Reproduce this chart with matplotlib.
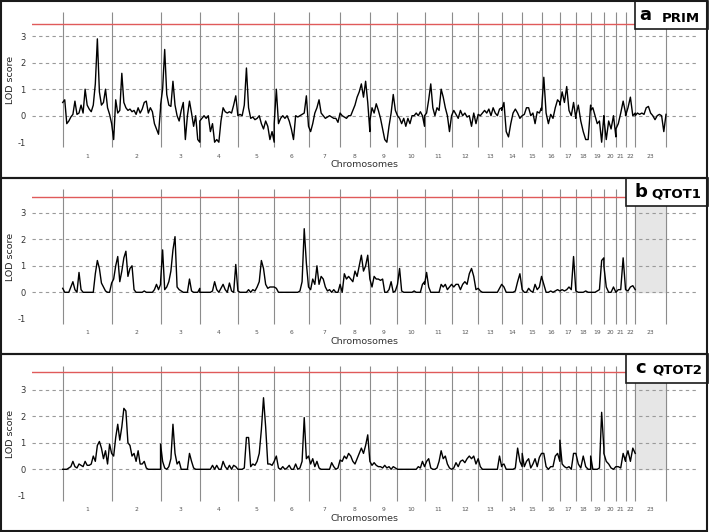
import numpy as np
import matplotlib
matplotlib.use('Agg')
import matplotlib.pyplot as plt
from matplotlib.patches import Rectangle

chrom_names = [str(i) for i in range(1, 24)]
chrom_lengths = [248, 248, 199, 193, 184, 174, 160, 151, 140, 137, 137, 135,
                 119, 104, 98, 93, 81, 75, 67, 61, 49, 49, 156]

# LOD scores along each chromosome (evenly spaced markers)
prim_lod = [
    [0.5, 0.6, -0.3, -0.2, -0.05, 0.05, 0.55, 0.05, 0.1, 0.4, 0.1, 1.0, 0.4, 0.25, 0.15, 0.4, 1.2, 2.9, 0.9, 0.4, 0.5, 1.0, 0.3, 0.05, -0.3],
    [-0.3, -0.9, 0.6, 0.1, 0.2, 1.6, 0.5, 0.3, 0.2, 0.25, 0.15, 0.2, 0.05, 0.3, 0.1, 0.25, 0.5, 0.55, 0.1, 0.3, 0.15, -0.3, -0.5, -0.7, 0.3],
    [0.4, 1.0, 2.5, 0.8, 0.4, 0.35, 1.3, 0.4, 0.0, -0.2, 0.2, 0.5, -0.9, 0.0, 0.55, 0.1, -0.4, 0.0, -0.9, -1.0],
    [-0.2, -0.1, 0.0, -0.1, 0.0, -0.6, -0.3, -1.0, -0.9, -1.0, -0.2, 0.3, 0.15, 0.1, 0.15, 0.1, 0.4, 0.75, 0.0],
    [0.0, 0.05, 0.0, 0.4, 1.8, 0.3, -0.1, -0.05, -0.15, -0.1, 0.0, -0.3, -0.5, -0.2, -0.4, -0.9, -0.6, -1.0],
    [-0.3, 1.0, -0.3, -0.1, 0.0, -0.1, 0.0, -0.2, -0.5, -0.9, 0.0, -0.05, 0.0, 0.05, 0.1, 0.75, -0.4],
    [-0.4, -0.6, -0.3, 0.1, 0.3, 0.6, 0.1, 0.0, -0.1, -0.05, 0.0, -0.05, -0.1, -0.1, -0.25, 0.1],
    [0.1, 0.0, -0.05, -0.1, 0.0, 0.0, 0.2, 0.4, 0.7, 0.9, 1.2, 0.7, 1.3, 0.5, -0.6],
    [-0.2, 0.3, 0.1, 0.45, 0.2, -0.1, -0.5, -0.9, -1.0, -0.4, 0.1, 0.8, 0.2, 0.0],
    [0.0, -0.1, -0.3, -0.1, -0.4, -0.1, -0.3, 0.0, 0.0, 0.1, 0.0, 0.15, 0.0, -0.4],
    [0.0, 0.1, 0.6, 1.2, 0.3, 0.0, 0.3, 0.2, 1.0, 0.7, 0.3, 0.0, -0.6, 0.0],
    [0.0, 0.2, 0.05, -0.1, 0.2, 0.0, 0.1, -0.05, 0.0, -0.4, 0.1, -0.3, 0.05],
    [0.05, 0.0, 0.1, 0.2, 0.1, 0.25, 0.0, 0.3, 0.1, 0.0, 0.25, 0.3],
    [0.2, 0.5, -0.6, -0.8, -0.3, 0.1, 0.25, 0.1, -0.1, 0.0],
    [0.0, 0.05, 0.3, 0.3, 0.0, 0.1, -0.3, 0.15, 0.1, 0.3],
    [0.2, 1.45, 0.1, -0.3, 0.05, -0.1, 0.3, 0.6, 0.5],
    [0.4, 0.9, 0.5, 1.1, 0.2, 0.0, 0.5, -0.1],
    [0.0, 0.4, -0.2, -0.6, -0.9, -0.9, 0.4],
    [0.2, 0.3, 0.0, -0.3, -0.2, -1.0, 0.0],
    [-0.1, -0.9, -0.2, -0.5, 0.0, -0.8],
    [-0.5, -0.3, 0.1, 0.55, 0.1],
    [0.0, 0.3, 0.7, 0.0, 0.1],
    [0.0, 0.1, 0.05, 0.1, 0.05, 0.3, 0.35, 0.1, 0.0, -0.15, 0.0, 0.05, 0.0, -0.6, 0.05],
]

qtot1_lod = [
    [0.15, 0.0, 0.0, 0.0, 0.2, 0.4, 0.1, 0.0, 0.75, 0.1, 0.0, 0.0, 0.0, 0.0, 0.0, 0.0, 0.7, 1.2, 0.9, 0.35, 0.2, 0.05, 0.0, 0.0, 0.35],
    [0.35, 0.5, 1.0, 1.35, 0.4, 0.8, 1.3, 1.55, 0.6, 0.9, 1.0, 0.1, 0.0, 0.0, 0.0, 0.0, 0.05, 0.0, 0.0, 0.0, 0.0, 0.1, 0.3, 0.1, 0.3],
    [0.4, 1.6, 0.1, 0.2, 0.4, 0.8, 1.6, 2.1, 0.2, 0.1, 0.05, 0.0, 0.0, 0.0, 0.5, 0.05, 0.0, 0.0, 0.0, 0.15],
    [0.0, 0.0, 0.0, 0.0, 0.0, 0.0, 0.05, 0.4, 0.1, 0.0, 0.15, 0.3, 0.1, 0.0, 0.35, 0.05, 0.0, 1.05, 0.05],
    [0.05, 0.0, 0.0, 0.0, 0.0, 0.1, 0.0, 0.1, 0.05, 0.2, 0.4, 1.2, 0.9, 0.3, 0.15, 0.2, 0.2, 0.2],
    [0.2, 0.15, 0.0, 0.0, 0.0, 0.0, 0.0, 0.0, 0.0, 0.0, 0.0, 0.0, 0.05, 0.4, 2.4, 1.1, 0.2],
    [0.2, 0.1, 0.5, 0.3, 1.0, 0.3, 0.6, 0.5, 0.2, 0.05, 0.1, 0.0, 0.1, 0.0, 0.0, 0.3],
    [0.3, 0.0, 0.7, 0.5, 0.6, 0.5, 0.4, 0.8, 0.6, 1.0, 1.4, 0.8, 1.0, 1.4, 0.5],
    [0.5, 0.2, 0.6, 0.5, 0.5, 0.45, 0.5, 0.0, 0.0, 0.1, 0.4, 0.0, 0.05, 0.3],
    [0.3, 0.9, 0.05, 0.0, 0.0, 0.0, 0.0, 0.0, 0.05, 0.0, 0.0, 0.0, 0.3, 0.4],
    [0.3, 0.75, 0.2, 0.0, 0.0, 0.0, 0.0, 0.0, 0.3, 0.2, 0.3, 0.1, 0.2, 0.3],
    [0.3, 0.2, 0.3, 0.3, 0.1, 0.3, 0.4, 0.3, 0.7, 0.9, 0.6, 0.1, 0.15],
    [0.15, 0.05, 0.0, 0.0, 0.0, 0.0, 0.0, 0.0, 0.0, 0.0, 0.15, 0.3],
    [0.3, 0.2, 0.0, 0.0, 0.0, 0.0, 0.05, 0.4, 0.7, 0.1],
    [0.1, 0.0, 0.0, 0.15, 0.05, 0.0, 0.3, 0.1, 0.2, 0.6],
    [0.6, 0.3, 0.0, 0.0, 0.05, 0.0, 0.05, 0.1, 0.05],
    [0.05, 0.1, 0.05, 0.1, 0.2, 0.1, 1.35, 0.1],
    [0.05, 0.0, 0.0, 0.0, 0.05, 0.0, 0.0],
    [0.0, 0.0, 0.0, 0.05, 0.1, 1.2, 1.3],
    [1.0, 0.2, 0.0, 0.0, 0.2, 0.0],
    [0.0, 0.1, 0.1, 1.3, 0.1],
    [0.1, 0.05, 0.2, 0.25, 0.1],
]

qtot2_lod = [
    [0.0, 0.0, 0.0, 0.05, 0.1, 0.3, 0.1, 0.05, 0.2, 0.15, 0.1, 0.3, 0.15, 0.15, 0.2, 0.5, 0.3, 0.9, 1.05, 0.8, 0.4, 0.7, 0.2, 0.95, 0.6],
    [0.6, 0.5, 1.2, 1.7, 1.1, 1.6, 2.3, 2.2, 1.0, 0.9, 0.5, 0.6, 0.3, 0.7, 0.2, 0.2, 0.3, 0.05, 0.0, 0.0, 0.0, 0.0, 0.0, 0.0, 0.0],
    [0.95, 0.3, 0.05, 0.0, 0.1, 0.4, 1.7, 0.6, 0.2, 0.3, 0.0, 0.0, 0.0, 0.0, 0.6, 0.3, 0.05, 0.0, 0.0, 0.0],
    [0.0, 0.0, 0.0, 0.0, 0.0, 0.0, 0.15, 0.0, 0.15, 0.0, 0.0, 0.3, 0.1, 0.0, 0.15, 0.0, 0.15, 0.1, 0.0],
    [0.0, 0.0, 0.0, 0.05, 1.2, 1.2, 0.1, 0.2, 0.15, 0.3, 0.6, 1.5, 2.7, 1.6, 0.2, 0.2, 0.15, 0.3],
    [0.3, 0.5, 0.05, 0.0, 0.1, 0.0, 0.05, 0.15, 0.0, 0.0, 0.2, 0.0, 0.05, 0.3, 1.95, 0.4, 0.5],
    [0.5, 0.2, 0.4, 0.1, 0.3, 0.05, 0.0, 0.0, 0.0, 0.0, 0.0, 0.25, 0.1, 0.0, 0.05, 0.35],
    [0.35, 0.3, 0.5, 0.4, 0.6, 0.5, 0.3, 0.2, 0.4, 0.6, 0.8, 0.6, 0.9, 1.3, 0.3],
    [0.3, 0.15, 0.25, 0.15, 0.1, 0.1, 0.05, 0.15, 0.05, 0.1, 0.0, 0.1, 0.05, 0.0],
    [0.0, 0.0, 0.0, 0.0, 0.0, 0.0, 0.0, 0.0, 0.0, 0.0, 0.1, 0.05, 0.3, 0.1],
    [0.1, 0.3, 0.4, 0.05, 0.0, 0.0, 0.05, 0.3, 0.7, 0.4, 0.5, 0.2, 0.05, 0.0],
    [0.0, 0.05, 0.25, 0.1, 0.3, 0.35, 0.25, 0.4, 0.5, 0.4, 0.5, 0.2, 0.4],
    [0.4, 0.1, 0.0, 0.0, 0.0, 0.0, 0.0, 0.0, 0.0, 0.0, 0.5, 0.1],
    [0.15, 0.2, 0.0, 0.0, 0.0, 0.0, 0.05, 0.8, 0.3, 0.1],
    [0.6, 0.1, 0.3, 0.4, 0.05, 0.2, 0.4, 0.1, 0.45, 0.6],
    [0.6, 0.6, 0.1, 0.0, 0.1, 0.1, 0.5, 0.6, 0.3],
    [1.1, 0.2, 0.1, 0.05, 0.1, 0.0, 0.6, 0.6],
    [0.6, 0.2, 0.05, 0.5, 0.1, 0.0, 0.0],
    [0.5, 0.0, 0.0, 0.0, 0.05, 2.15, 0.8],
    [0.6, 0.3, 0.2, 0.05, 0.0, 0.1],
    [0.1, 0.1, 0.05, 0.6, 0.3],
    [0.4, 0.7, 0.3, 0.8, 0.6],
]

panel_letters = ['a', 'b', 'c']
panel_traits = ['PRIM', 'QTOT1', 'QTOT2']
thresholds = [3.47, 3.58, 3.67]
shade_x_chrom = [False, True, True]
grid_levels = [0, 1, 2, 3]
ytick_values = [-1, 0, 1, 2, 3]

W, H = 709, 532


def fx(px):
    return px / W


def fy(py):
    return 1 - py / H


def genome_curve(lod_by_chrom, starts, lengths):
    xs, ys = [], []
    for vals, s, l in zip(lod_by_chrom, starts, lengths):
        xs.append(np.linspace(s, s + l, len(vals)))
        ys.append(vals)
    return np.concatenate(xs), np.concatenate(ys)


def main():
    lengths = np.array(chrom_lengths, dtype=float)
    bounds = np.concatenate([[0], np.cumsum(lengths)])
    starts = bounds[:-1]
    mids = starts + lengths / 2
    total = bounds[-1]
    px_per_mb = 603.3 / total

    fig = plt.figure(figsize=(W / 100, H / 100), dpi=100)

    panel_series = [prim_lod, qtot1_lod, qtot2_lod]
    zero_px = [115.7, 292.3, 469.3]
    unit_px = 26.5
    ymin, ymax = -1.3, 4.0
    frames = [(1, 177.5), (177.5, 354), (354, 530.5)]
    label_boxes = [(634.7, 1, 29.3), (625.7, 177.5, 205.7), (625.7, 354, 383.3)]
    label_base = [(20.5, 21.5), (196.7, 197.3), (373.3, 373.3)]
    letter_x = [639.0, 635.0, 635.0]
    trait_x = [662.0, 651.5, 652.0]

    for i in range(3):
        top = zero_px[i] - ymax * unit_px
        height = (ymax - ymin) * unit_px
        ax = fig.add_axes([fx(32), fy(top + height), fx(665), height / H])
        ax.set_xlim(-(62.7 - 32) / px_per_mb, total + (697 - 666) / px_per_mb)
        ax.set_ylim(ymin, ymax)
        for sp in ax.spines.values():
            sp.set_visible(False)

        for g in grid_levels:
            ax.axhline(g, color='#9a9a9a', lw=0.8, ls=(0, (3, 3)), zorder=1)
        ax.axhline(thresholds[i], color='#e05a5a', lw=1.0, zorder=2)

        if shade_x_chrom[i]:
            ax.fill_between([bounds[-2], bounds[-1]], 0, 3.9, color='#e6e6e6', zorder=0.5)

        ax.vlines(bounds, -1.2, 3.9, color='#8c8c8c', lw=0.8, zorder=1.5)

        x, y = genome_curve(panel_series[i], starts, lengths)
        ax.plot(x, y, color='black', lw=1.0, zorder=3)

        ax.set_yticks(ytick_values)
        ax.set_yticklabels([str(v) for v in ytick_values], fontsize=6, color='#333333')
        ax.set_xticks(mids)
        ax.set_xticklabels(chrom_names, fontsize=4.3, color='#555555')
        ax.tick_params(axis='both', length=0)
        ax.tick_params(axis='y', pad=4.5)
        ax.tick_params(axis='x', pad=2.5)
        ax.set_xlabel('Chromosomes', fontsize=6.8, color='#333333', labelpad=1)
        ax.set_ylabel('LOD score', fontsize=6.8, color='#222222', labelpad=1.5)

        # panel frame
        f_top, f_bot = frames[i]
        fig.patches.append(Rectangle((fx(1), fy(f_bot)), fx(706), (f_bot - f_top) / H,
                                     transform=fig.transFigure, fill=False,
                                     edgecolor='#1a1a1a', lw=1.5, zorder=5))
        # label box
        bx, bt, bb = label_boxes[i]
        fig.patches.append(Rectangle((fx(bx), fy(bb)), fx(707.5 - bx), (bb - bt) / H,
                                     transform=fig.transFigure, facecolor='white',
                                     edgecolor='#1a1a1a', lw=1.2, zorder=4))
        fig.text(fx(letter_x[i]), fy(label_base[i][0]), panel_letters[i], fontsize=13,
                 fontweight='bold', va='baseline', ha='left', zorder=6)
        fig.text(fx(trait_x[i]), fy(label_base[i][1]), panel_traits[i], fontsize=9.5,
                 fontweight='bold', va='baseline', ha='left', zorder=6)

    fig.savefig('out.png', dpi=100)


if __name__ == '__main__':
    main()
